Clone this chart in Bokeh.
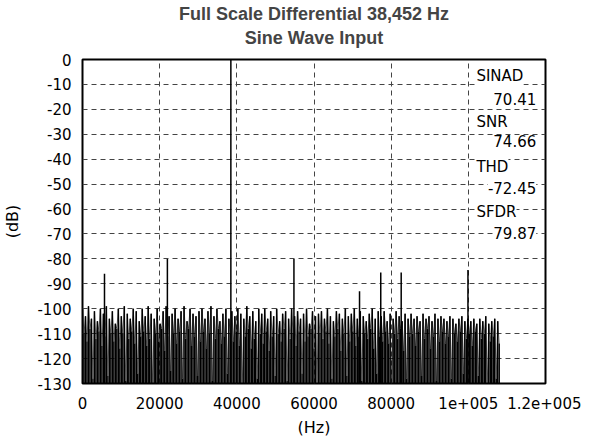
import numpy as np
from bokeh.plotting import figure
from bokeh.models import Title, FixedTicker, LabelSet, ColumnDataSource, Range1d
from bokeh.core.properties import value
from bokeh.embed import file_html
from bokeh.resources import INLINE

# ---------------- data ----------------
title_line1 = "Full Scale Differential 38,452 Hz"
title_line2 = "Sine Wave Input"
x_label = "(Hz)"
y_label = "(dB)"

x_ticks = [0, 20000, 40000, 60000, 80000, 100000, 120000]
x_tick_labels = ["0", "20000", "40000", "60000", "80000", "1e+005", "1.2e+005"]
y_ticks = [0, -10, -20, -30, -40, -50, -60, -70, -80, -90, -100, -110, -120, -130]
y_tick_labels = ["0", "-10", "-20", "-30", "-40", "-50", "-60", "-70", "-80",
                 "-90", "-100", "-110", "-120", "-130"]

# FFT bin spacing of the noise floor (Hz)
bin_width_hz = 387.1

# noise floor magnitudes (dB)
noise_db = [
    -100, -110, -103, -113, -99, -108, -104, -128, -101, -112, -105, -109, -100, -115, -102, -111, -99, -127, -104, -110,
    -101, -113, -106, -108, -100, -116, -103, -110, -99, -129, -102, -112, -104, -109, -100, -114, -101, -126, -105, -111,
    -100, -109, -103, -115, -99, -112, -102, -130, -104, -110, -100, -113, -106, -108, -101, -117, -99, -111, -103, -125,
    -102, -110, -100, -114, -104, -109, -101, -128, -99, -112, -105, -108, -100, -115, -102, -111, -103, -127, -101, -113,
    -100, -109, -104, -116, -101, -110, -99, -129, -103, -112, -100, -108, -105, -114, -102, -111, -100, -126, -104, -110,
    -101, -113, -103, -109, -100, -115, -102, -130, -104, -111, -99, -108, -103, -116, -101, -112, -105, -128, -100, -110,
    -102, -114, -100, -109, -104, -117, -101, -111, -103, -127, -100, -110, -105, -113, -102, -108, -101, -129, -104, -112,
    -100, -110, -103, -115, -101, -109, -104, -126, -102, -113, -100, -111, -106, -108, -101, -116, -103, -130, -102, -110,
    -101, -112, -104, -109, -100, -114, -103, -128, -105, -111, -101, -108, -102, -117, -104, -110, -100, -127, -103, -113,
    -102, -109, -100, -115, -104, -111, -101, -129, -103, -110, -105, -112, -102, -108, -100, -116, -104, -126, -101, -111,
    -103, -113, -101, -109, -105, -114, -102, -130, -104, -110, -101, -112, -103, -108, -105, -117, -102, -128, -104, -111,
    -102, -110, -104, -115, -103, -109, -105, -127, -102, -112, -104, -108, -103, -116, -105, -111, -102, -129, -104, -113,
    -103, -109, -104, -114, -105, -111, -103, -128, -104, -110, -106, -113, -104, -109, -103, -126, -105, -112, -104, -110,
    -105, -115, -104, -109, -106, -127, -104, -112, -105, -110, -103, -130, -106, -113, -105, -111, -104, -128, -105, -114,
]

# fundamental and spurs
spur_hz = [5700, 22000, 38452, 54800, 71800, 77300, 82600, 99900]
spur_db = [-86, -80, 0, -80, -93, -85.5, -85.5, -84.5]

# measurement summary
stat_names = ["SINAD", "SNR", "THD", "SFDR"]
stat_values = ["70.41", "74.66", "-72.45", "79.87"]

floor_db = -130

# ---------------- figure ----------------
p = figure(frame_width=463, frame_height=324, output_backend="svg", toolbar_location=None,
           x_range=Range1d(0, 120000), y_range=Range1d(-130, 0),
           min_border_left=10, min_border_right=36, min_border_top=0, min_border_bottom=0)

p.background_fill_color = "white"
p.border_fill_color = "white"
p.outline_line_color = "black"
p.outline_line_width = 2

spacer = Title(text=" ", text_font_size="8px", standoff=0)
t2 = Title(text=title_line2, align="center", text_font="Liberation Sans",
           text_font_size="18px", text_font_style="bold", standoff=1)
t1 = Title(text=title_line1, align="center", text_font="Liberation Sans",
           text_font_size="18px", text_font_style="bold", standoff=3)
p.add_layout(spacer, "above")
p.add_layout(t2, "above")
p.add_layout(t1, "above")

# grid
p.xgrid.ticker = FixedTicker(ticks=x_ticks[1:-1])
p.ygrid.ticker = FixedTicker(ticks=y_ticks[1:-1])
for g in (p.xgrid[0], p.ygrid[0]):
    g.grid_line_color = "#444444"
    g.grid_line_dash = "5 4"
    g.grid_line_width = 1

# axes
p.xaxis.ticker = FixedTicker(ticks=x_ticks)
p.yaxis.ticker = FixedTicker(ticks=y_ticks)
p.xaxis.major_label_overrides = {t: l for t, l in zip(x_ticks, x_tick_labels)}
p.yaxis.major_label_overrides = {t: l for t, l in zip(y_ticks, y_tick_labels)}
for ax in (p.xaxis[0], p.yaxis[0]):
    ax.axis_line_color = None
    ax.major_tick_line_color = None
    ax.minor_tick_line_color = None
    ax.major_tick_out = 0
    ax.major_tick_in = 0
    ax.major_label_text_font = "DejaVu Sans"
    ax.major_label_text_font_size = "15px"
    ax.major_label_text_color = "black"
    ax.axis_label_text_font = "DejaVu Sans"
    ax.axis_label_text_font_size = "16px"
    ax.axis_label_text_font_style = "normal"
    ax.axis_label_text_color = "black"
p.xaxis.axis_label = x_label
p.yaxis.axis_label = y_label
p.xaxis.major_label_standoff = 13
p.yaxis.major_label_standoff = 11
p.xaxis.axis_label_standoff = 6
p.yaxis.axis_label_standoff = 12

# noise floor
noise_hz = np.arange(len(noise_db)) * bin_width_hz
p.vbar(x=noise_hz, top=noise_db, bottom=floor_db, width=bin_width_hz,
       fill_color="black", line_color=None)
p.line(noise_hz, noise_db, line_color="black", line_width=0.6)

# spurs and fundamental
p.segment(x0=spur_hz, y0=[floor_db] * len(spur_hz), x1=spur_hz, y1=spur_db,
          line_color="black", line_width=1.5)

# summary labels (layout positions)
name_x = 102100
value_x = 117600
name_y = [-6.8, -24.9, -43.0, -61.0]
value_y = [-15.7, -32.9, -51.4, -69.5]

src_names = ColumnDataSource(dict(x=[name_x] * 4, y=name_y, t=stat_names))
src_vals = ColumnDataSource(dict(x=[value_x] * 4, y=value_y, t=stat_values))
p.add_layout(LabelSet(x="x", y="y", text="t", source=src_names, text_align="left",
                      text_baseline="middle", text_font=value("DejaVu Sans"),
                      text_font_size=value("15px"), text_color="black",
                      background_fill_color="white"))
p.add_layout(LabelSet(x="x", y="y", text="t", source=src_vals, text_align="right",
                      text_baseline="middle", text_font=value("DejaVu Sans"),
                      text_font_size=value("15px"), text_color="black",
                      background_fill_color="white"))

open("out.html", "w").write(file_html(p, INLINE))
